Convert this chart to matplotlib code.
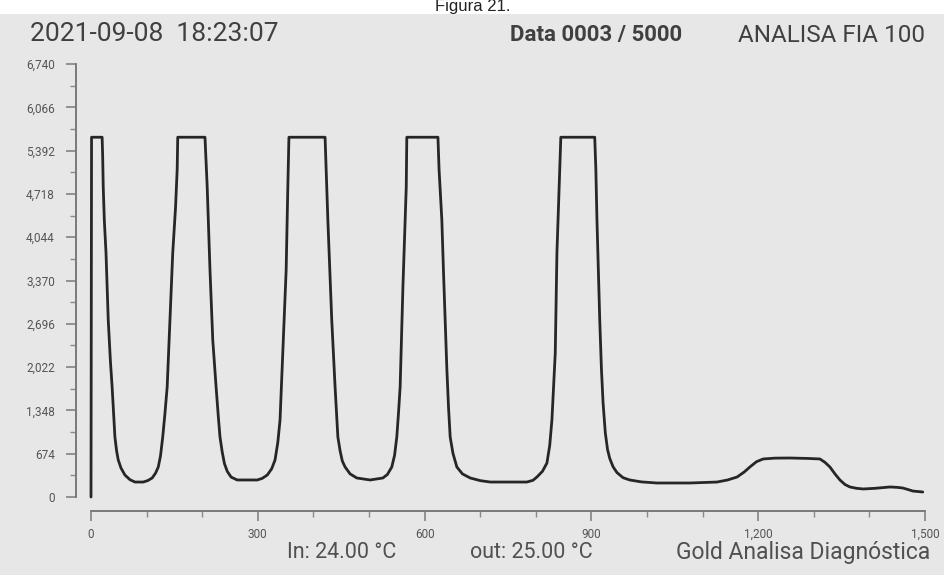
import matplotlib.pyplot as plt
from matplotlib.patches import Rectangle
from matplotlib.ticker import FixedLocator, FuncFormatter

# FIA run trace: time (s) vs detector signal
time_s = [0, 1, 20, 21, 22, 24, 27, 31, 35, 38, 41, 43, 46, 49, 54, 61, 70, 79, 94, 102,
          110, 116, 121, 125, 129, 133, 137, 142, 147, 152, 155, 156,
          205, 207, 209, 214, 219, 225, 229, 232, 236, 240, 245, 252, 263, 299, 308, 317,
          325, 331, 336, 340, 345, 351, 354, 356,
          421, 423, 426, 433, 439, 442, 444, 448, 452, 457, 466, 478, 502, 525, 533, 541,
          546, 550, 553, 556, 561, 565, 567, 568,
          624, 626, 631, 634, 637, 640, 643, 646, 651, 658, 668, 682, 700, 718, 784, 795,
          802, 812, 820, 825, 829, 835, 838, 842, 845,
          906, 908, 910, 915, 918, 921, 925, 929, 933, 939, 946, 957, 969, 990, 1018, 1077,
          1126, 1145, 1162, 1175, 1185, 1197, 1209, 1230, 1257, 1290, 1311, 1320, 1329, 1338,
          1347, 1356, 1365, 1377, 1389, 1410, 1437, 1450, 1460, 1470, 1478, 1496]
signal = [0, 5600, 5600, 5300, 4825, 4300, 3798, 2755, 2100, 1712, 1250, 934, 720, 576, 450, 342, 270, 233, 233, 255,
          296, 370, 467, 640, 934, 1300, 1712, 2755, 3798, 4500, 5100, 5600,
          5600, 5200, 4825, 3533, 2444, 1712, 1250, 934, 700, 520, 400, 310, 265, 265, 290, 342,
          440, 576, 850, 1199, 2242, 3533, 4825, 5600,
          5600, 5100, 4312, 2755, 1712, 1250, 934, 720, 560, 467, 360, 296, 265, 296, 350, 467,
          650, 934, 1300, 1712, 3269, 4300, 4825, 5600,
          5600, 5100, 4312, 3500, 2755, 2000, 1400, 934, 680, 467, 360, 296, 255, 233, 233, 260,
          311, 400, 529, 800, 1199, 2242, 3798, 4825, 5600,
          5600, 5100, 4312, 2755, 2000, 1463, 1000, 740, 600, 470, 380, 300, 265, 235, 218, 218,
          233, 265, 311, 390, 467, 550, 592, 605, 607, 600, 592, 540, 467, 360,
          265, 195, 156, 135, 125, 135, 156, 150, 140, 115, 93, 78]

y_ticks = [0, 674, 1348, 2022, 2696, 3370, 4044, 4718, 5392, 6066, 6740]
x_ticks = [0, 300, 600, 900, 1200, 1500]

header_left = "2021-09-08  18:23:07"
header_data = "Data 0003 / 5000"
header_right = "ANALISA FIA 100"
footer = ["In: 24.00 °C", "out: 25.00 °C", "Gold Analisa Diagnóstica"]

W, H = 945, 575
fig = plt.figure(figsize=(W / 100, H / 100), dpi=100)
fig.patch.set_facecolor("white")
fig.patches.append(Rectangle((0, 0), 1, (H - 14) / H, transform=fig.transFigure,
                             facecolor="#e7e7e7", edgecolor="none", zorder=-10))
fig.text(0.5, (H - 11) / H, "Figura 21.", ha="center", va="baseline",
         fontsize=12, color="#222222", family="Liberation Sans")

ax = fig.add_axes([91 / W, (H - 497) / H, 834 / W, 433 / H])
ax.set_facecolor("none")
ax.plot(time_s, signal, color="#262626", lw=2.0, clip_on=False,
        solid_joinstyle="round", solid_capstyle="round")

ax.set_xlim(0, 1500)
ax.set_ylim(0, 6740)
ax.spines[["top", "right"]].set_visible(False)
ax.spines["left"].set_position(("outward", 11))
ax.spines["bottom"].set_position(("outward", 10))
ax.spines["left"].set_bounds(0, 6740)
ax.spines["bottom"].set_bounds(0, 1500)
for s in ("left", "bottom"):
    ax.spines[s].set_color("#7a7a7a")
    ax.spines[s].set_linewidth(1.4)

ax.yaxis.set_major_locator(FixedLocator(y_ticks))
ax.yaxis.set_minor_locator(FixedLocator([v + 337 for v in y_ticks[:-1]]))
ax.xaxis.set_major_locator(FixedLocator(x_ticks))
ax.xaxis.set_minor_locator(FixedLocator([v for v in range(100, 1500, 100) if v % 300]))
comma = FuncFormatter(lambda v, p: f"{int(v):,}")
ax.yaxis.set_major_formatter(comma)
ax.xaxis.set_major_formatter(comma)
ax.tick_params(which="major", length=7, width=1.1, color="#7a7a7a",
               labelsize=8.5, labelcolor="#555555", labelfontfamily="Roboto")
ax.tick_params(which="minor", length=4, width=1.0, color="#8a8a8a")
ax.tick_params(axis="y", pad=8)
ax.tick_params(axis="x", pad=5)

fig.text(30 / W, (H - 34) / H, header_left, ha="left", va="center",
         fontsize=19, color="#404040", family="Roboto")
fig.text(682 / W, (H - 35) / H, header_data, ha="right", va="center",
         fontsize=16, color="#404040", family="Roboto", weight="bold")
fig.text(925 / W, (H - 35) / H, header_right, ha="right", va="center",
         fontsize=17.5, color="#404040", family="Roboto")

fig.text(287 / W, (H - 552) / H, footer[0], ha="left", va="center",
         fontsize=15.5, color="#505050", family="Roboto")
fig.text(470 / W, (H - 552) / H, footer[1], ha="left", va="center",
         fontsize=15.5, color="#505050", family="Roboto")
fig.text(930 / W, (H - 552) / H, footer[2], ha="right", va="center",
         fontsize=16.5, color="#505050", family="Roboto")

fig.savefig("out.png", dpi=100, facecolor=fig.get_facecolor())
